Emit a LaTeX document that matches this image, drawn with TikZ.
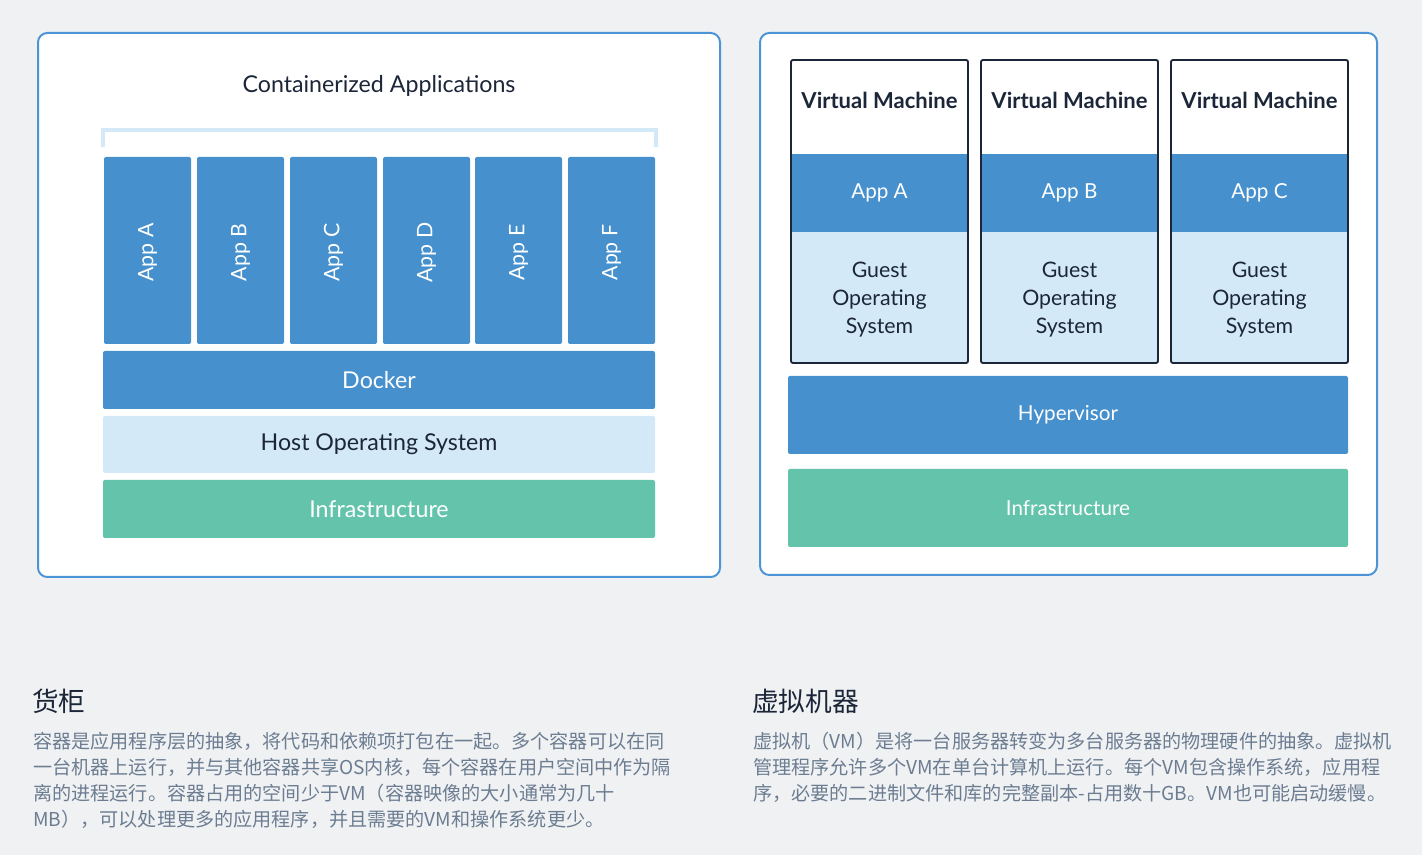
\documentclass[tikz,border=0pt]{standalone}
\usepackage{fontspec}
\setmainfont{Lato}
\newfontfamily\cjk{Noto Sans CJK SC}
\usetikzlibrary{fit}
\definecolor{bg}{HTML}{F0F1F3}
\definecolor{frame}{HTML}{4C94D6}
\definecolor{dblue}{HTML}{4690CD}
\definecolor{lblue}{HTML}{D4E9F8}
\definecolor{green}{HTML}{63C4AB}
\definecolor{navy}{HTML}{1B2638}
\definecolor{para}{HTML}{6C7D92}
\tikzset{
  panel/.style={draw=frame, line width=1.5pt, fill=white, rounded corners=7pt, inner sep=0pt},
  bluebox/.style={fill=dblue, rounded corners=1.5pt, inner sep=0pt},
  lightbox/.style={fill=lblue, rounded corners=1.5pt, inner sep=0pt},
  greenbox/.style={fill=green, rounded corners=1.5pt, inner sep=0pt},
  band/.style={inner sep=0pt},
  vmframe/.style={draw=navy, line width=1.4pt, rounded corners=1.5pt, inner sep=0pt},
  applabel/.style={rotate=90, text=white, font=\fontsize{16}{19}\selectfont, inner sep=0pt},
  biglbl/.style={inner sep=0pt, font=\fontsize{17.4}{20}\selectfont},
  lbl/.style={inner sep=0pt, font=\fontsize{15.5}{18}\selectfont},
  guest/.style={inner sep=0pt, text=navy, align=center, font=\fontsize{16}{21}\selectfont},
  vmtitle/.style={inner sep=0pt, text=navy, font=\fontsize{16.5}{19}\selectfont\bfseries},
  head/.style={inner sep=0pt, anchor=west, text=navy, font=\cjk\fontsize{20}{24}\selectfont},
  paraline/.style={inner sep=0pt, anchor=west, text=para, font=\cjk\fontsize{14.35}{17}\selectfont},
  bracket/.style={draw=lblue, line width=3pt}
}
\begin{document}
\begin{tikzpicture}[x=0.75pt, y=-0.75pt]
\useasboundingbox (0,0) rectangle (1422,855);
\fill[bg] (0,0) rectangle (1422,855);

% ---------- left panel ----------
\node[panel, fit={(38,33) (720,577)}] (leftpanel) {};
\node[biglbl, text=navy] (ctitle) at (379,86) {Containerized Applications};
\coordinate (brl) at (103,147);
\coordinate (brr) at (656,147);
\draw[bracket] (brl) -- ++(0,-17) -| (brr);

\node[bluebox, fit={(104,157) (191,344)}] (appA) {};
\node[bluebox, fit={(197,157) (284,344)}] (appB) {};
\node[bluebox, fit={(290,157) (377,344)}] (appC) {};
\node[bluebox, fit={(383,157) (470,344)}] (appD) {};
\node[bluebox, fit={(475,157) (562,344)}] (appE) {};
\node[bluebox, fit={(568,157) (655,344)}] (appF) {};
\node[applabel] (tA) at ([yshift=-1.5pt]appA) {App A};
\node[applabel] (tB) at ([yshift=-1.5pt]appB) {App B};
\node[applabel] (tC) at ([yshift=-1.5pt]appC) {App C};
\node[applabel] (tD) at ([yshift=-1.5pt]appD) {App D};
\node[applabel] (tE) at ([yshift=-1.5pt]appE) {App E};
\node[applabel] (tF) at ([yshift=-1.5pt]appF) {App F};

\node[bluebox, fit={(103,351) (655,409)}] (docker) {};
\node[biglbl, text=white] (tdocker) at (docker) {Docker};
\node[lightbox, fit={(103,416) (655,473)}] (hostos) {};
\node[biglbl, text=navy] (thostos) at (hostos) {Host Operating System};
\node[greenbox, fit={(103,480) (655,538)}] (infraL) {};
\node[biglbl, text=white] (tinfraL) at (infraL) {Infrastructure};

% ---------- right panel ----------
\node[panel, fit={(760,33) (1377,575)}] (rightpanel) {};

% VM 1
\node[band, fill=white, fit={(791,60) (968,154)}] (vm1top) {};
\node[band, fill=dblue, fit={(791,154) (968,232)}] (vm1app) {};
\node[band, fill=lblue, fit={(791,232) (968,363)}] (vm1os) {};
\node[vmframe, fit={(791,60) (968,363)}] (vm1) {};
\node[vmtitle] (vm1t) at (879.5,100) {Virtual Machine};
\node[lbl, text=white] (vm1a) at (vm1app) {App A};
\node[guest] (vm1g) at (879.5,300) {Guest\\Operating\\System};

% VM 2
\node[band, fill=white, fit={(981,60) (1158,154)}] (vm2top) {};
\node[band, fill=dblue, fit={(981,154) (1158,232)}] (vm2app) {};
\node[band, fill=lblue, fit={(981,232) (1158,363)}] (vm2os) {};
\node[vmframe, fit={(981,60) (1158,363)}] (vm2) {};
\node[vmtitle] (vm2t) at (1069.5,100) {Virtual Machine};
\node[lbl, text=white] (vm2a) at (vm2app) {App B};
\node[guest] (vm2g) at (1069.5,300) {Guest\\Operating\\System};

% VM 3
\node[band, fill=white, fit={(1171,60) (1348,154)}] (vm3top) {};
\node[band, fill=dblue, fit={(1171,154) (1348,232)}] (vm3app) {};
\node[band, fill=lblue, fit={(1171,232) (1348,363)}] (vm3os) {};
\node[vmframe, fit={(1171,60) (1348,363)}] (vm3) {};
\node[vmtitle] (vm3t) at (1259.5,100) {Virtual Machine};
\node[lbl, text=white] (vm3a) at (vm3app) {App C};
\node[guest] (vm3g) at (1259.5,300) {Guest\\Operating\\System};

\node[bluebox, fit={(788,376) (1348,454)}] (hyper) {};
\node[lbl, text=white] (thyper) at (hyper) {Hypervisor};
\node[greenbox, fit={(788,469) (1348,547)}] (infraR) {};
\node[lbl, text=white] (tinfraR) at (infraR) {Infrastructure};

% ---------- text ----------
\node[head] (h1) at (32,701) {货柜};
\node[paraline] (p1a) at (33,741) {容器是应用程序层的抽象，将代码和依赖项打包在一起。多个容器可以在同};
\node[paraline] (p1b) at (33,767) {一台机器上运行，并与其他容器共享OS内核，每个容器在用户空间中作为隔};
\node[paraline] (p1c) at (33,793) {离的进程运行。容器占用的空间少于VM（容器映像的大小通常为几十};
\node[paraline] (p1d) at (33,819) {MB），可以处理更多的应用程序，并且需要的VM和操作系统更少。};

\node[head] (h2) at (752,701) {虚拟机器};
\node[paraline] (p2a) at (753,741) {虚拟机（VM）是将一台服务器转变为多台服务器的物理硬件的抽象。虚拟机};
\node[paraline] (p2b) at (753,767) {管理程序允许多个VM在单台计算机上运行。每个VM包含操作系统，应用程};
\node[paraline] (p2c) at (753,793) {序，必要的二进制文件和库的完整副本-占用数十GB。VM也可能启动缓慢。};
\end{tikzpicture}
\end{document}
